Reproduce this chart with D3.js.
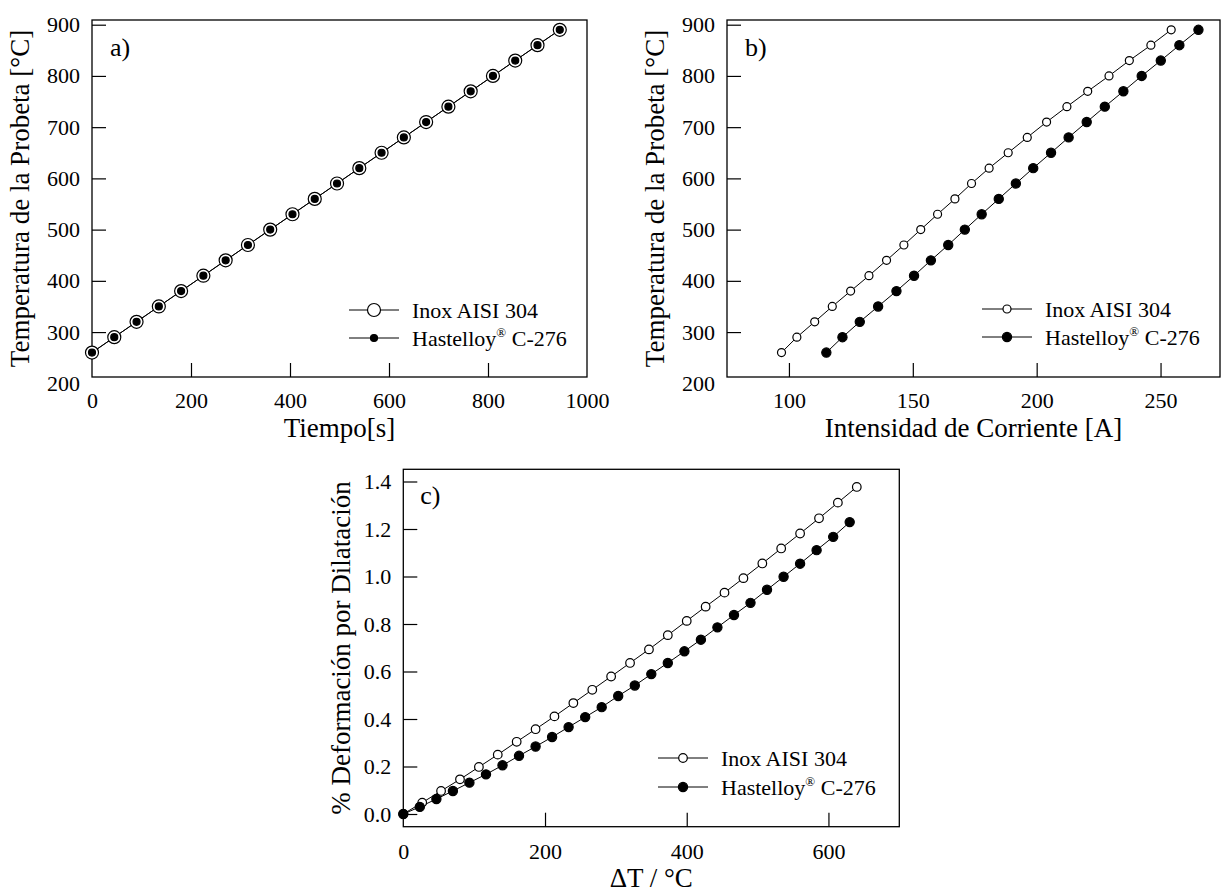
<!DOCTYPE html>
<meta charset="utf-8">
<style>
body { margin: 0; background: #fff; }
svg text { font-family: "Liberation Serif", "Times New Roman", serif; fill: #000; }
.tick text { font-size: 22px; }
.tick line { stroke: #000; stroke-width: 1.2; }
.title { font-size: 27px; }
.tag { font-size: 26px; }
.legend { font-size: 22px; }
.frame { fill: none; stroke: #000; stroke-width: 1.3; }
.serie { fill: none; stroke: #000; stroke-width: 1; }
</style>
<body>
<script src="https://d3js.org/d3.v7.min.js"></script>
<script>

// temperatura de la probeta, comun a a) y b)
var tempProbeta = [260, 290, 320, 350, 380, 410, 440, 470, 500, 530, 560,
                   590, 620, 650, 680, 710, 740, 770, 800, 830, 860, 890];

// a) tiempo [s] (las dos probetas coinciden)
var tiempo = [0, 45, 90, 135, 180, 225, 270, 315, 360, 405, 450,
              495, 540, 585, 630, 675, 720, 765, 810, 855, 900, 945];

// b) intensidad de corriente [A]
var corrienteInox = [97, 103.2, 110.4, 117.5, 124.9, 132.3, 139.4, 146.4, 153.2, 160, 167,
                     173.7, 180.8, 188.5, 196.2, 204, 212.2, 220.6, 229.2, 237.4, 246.1, 254.3];
var corrienteHast = [115.1, 121.6, 128.6, 136, 143.4, 150.5, 157.3, 164.3, 171, 177.8, 184.7,
                     191.6, 198.6, 205.8, 212.9, 220.2, 227.5, 235, 242.4, 250.1, 257.6, 265.3];

// c) deformacion vs dT
var dTInox = [0, 26.7, 53.3, 80, 106.7, 133.3, 160, 186.7, 213.3, 240, 266.7, 293.3, 320,
              346.7, 373.3, 400, 426.7, 453.3, 480, 506.7, 533.3, 560, 586.7, 613.3, 640];
var defInox = [0, 0.048, 0.097, 0.146, 0.198, 0.25, 0.304, 0.357, 0.411, 0.467, 0.523, 0.579, 0.636,
               0.693, 0.753, 0.813, 0.873, 0.932, 0.993, 1.055, 1.118, 1.181, 1.245, 1.311, 1.377];
var dTHast = [0, 23.3, 46.7, 70, 93.3, 116.7, 140, 163.3, 186.7, 210, 233.3, 256.7, 280, 303.3,
              326.7, 350, 373.3, 396.7, 420, 443.3, 466.7, 490, 513.3, 536.7, 560, 583.3, 606.7, 630];
var defHast = [0, 0.03, 0.063, 0.097, 0.132, 0.167, 0.205, 0.245, 0.284, 0.324, 0.366, 0.408, 0.45, 0.497,
               0.541, 0.589, 0.636, 0.685, 0.734, 0.786, 0.838, 0.889, 0.944, 0.999, 1.054, 1.111, 1.167, 1.229];

// ticks
var ticksTemp = [200, 300, 400, 500, 600, 700, 800, 900];
var ticksTiempo = [0, 200, 400, 600, 800, 1000];
var ticksCorriente = [100, 150, 200, 250];
var ticksDT = [0, 200, 400, 600];
var ticksDef = [0, 0.2, 0.4, 0.6, 0.8, 1.0, 1.2, 1.4];

var svg = d3.select("body").append("svg")
    .attr("width", 1222)
    .attr("height", 892);

svg.append("rect").attr("width", 1222).attr("height", 892).attr("fill", "#fff");

function zip(xs, ys) { return xs.map(function(v, i) { return [v, ys[i]]; }); }

function panel(p) {
  var x = d3.scaleLinear().domain(p.xDomain).range(p.xRange);
  var y = d3.scaleLinear().domain(p.yDomain).range(p.yRange);
  var f = p.frame;

  var gx = svg.append("g")
      .attr("transform", "translate(0," + f.y1 + ")")
      .call(d3.axisBottom(x).tickValues(p.xTicks).tickFormat(p.xFormat)
        .tickSizeInner(-14).tickSizeOuter(0).tickPadding(p.xPad));
  gx.select(".domain").remove();
  gx.selectAll(".tick line").attr("opacity", function(d) {
    return (x(d) <= f.x0 + 1 || x(d) >= f.x1 - 1) ? 0 : 1; });

  var gy = svg.append("g")
      .attr("transform", "translate(" + f.x0 + ",0)")
      .call(d3.axisLeft(y).tickValues(p.yTicks).tickFormat(p.yFormat)
        .tickSizeInner(-14).tickSizeOuter(0).tickPadding(12));
  gy.select(".domain").remove();
  gy.selectAll(".tick line").attr("opacity", function(d) {
    return (y(d) > f.y1 || y(d) < f.y0) ? 0 : 1; });

  svg.append("rect").attr("class", "frame")
      .attr("x", f.x0).attr("y", f.y0)
      .attr("width", f.x1 - f.x0).attr("height", f.y1 - f.y0);

  svg.append("text").attr("class", "title")
      .attr("x", (f.x0 + f.x1) / 2).attr("y", p.xTitleY)
      .style("text-anchor", "middle").text(p.xTitle);
  svg.append("text").attr("class", "title")
      .attr("transform", "translate(" + p.yTitleX + "," + (f.y0 + f.y1) / 2 + ") rotate(-90)")
      .style("text-anchor", "middle").text(p.yTitle);

  svg.append("text").attr("class", "tag")
      .attr("x", f.x0 + p.tag[1]).attr("y", f.y0 + p.tag[2]).text(p.tag[0]);

  var line = d3.line().x(function(d) { return x(d[0]); }).y(function(d) { return y(d[1]); });

  p.series.forEach(function(s) {
    var pts = zip(s.x, s.y);
    svg.append("path").datum(pts).attr("class", "serie").attr("d", line);
  });
  p.series.forEach(function(s) {
    var pts = zip(s.x, s.y);
    svg.selectAll(null).data(pts).enter().append("circle")
        .attr("cx", function(d) { return x(d[0]); })
        .attr("cy", function(d) { return y(d[1]); })
        .attr("r", s.r)
        .attr("fill", s.fill ? "#000" : "#fff")
        .attr("stroke", "#000").attr("stroke-width", 1.2);
  });

  // leyenda
  var L = p.legend;
  p.series.forEach(function(s, i) {
    var cy = L.y[i];
    svg.append("line").attr("x1", L.x).attr("x2", L.x + 50)
        .attr("y1", cy).attr("y2", cy).attr("stroke", "#000").attr("stroke-width", 1);
    svg.append("circle").attr("cx", L.x + 25).attr("cy", cy).attr("r", s.r)
        .attr("fill", s.fill ? "#000" : "#fff").attr("stroke", "#000").attr("stroke-width", 1.2);
    var t = svg.append("text").attr("class", "legend")
        .attr("x", L.x + 63).attr("y", cy + 7.5);
    if (s.sup) {
      t.append("tspan").text("Hastelloy");
      t.append("tspan").attr("dy", -9).style("font-size", "13px").text("®");
      t.append("tspan").attr("dy", 9).text(" C-276");
    } else {
      t.text(s.name);
    }
  });
}

var fmtInt = d3.format("d");
var fmtDef = d3.format(".1f");

panel({
  frame: {x0: 92, x1: 587, y0: 20, y1: 377},
  xDomain: [0, 1000], xRange: [92, 587],
  yDomain: [200, 900], yRange: [383.3, 24.7],
  xTicks: ticksTiempo, yTicks: ticksTemp, xFormat: fmtInt, yFormat: fmtInt, xPad: 15,
  xTitle: "Tiempo[s]", xTitleY: 437,
  yTitle: "Temperatura de la Probeta [°C]", yTitleX: 29,
  tag: ["a)", 18, 36],
  series: [
    {name: "Inox AISI 304", x: tiempo, y: tempProbeta, r: 6.5, fill: false},
    {name: "Hastelloy", sup: true, x: tiempo, y: tempProbeta, r: 3.5, fill: true}
  ],
  legend: {x: 349, y: [310, 338]}
});

panel({
  frame: {x0: 727, x1: 1220, y0: 20, y1: 377},
  xDomain: [75, 274], xRange: [727, 1220],
  yDomain: [200, 900], yRange: [383.3, 24.7],
  xTicks: ticksCorriente, yTicks: ticksTemp, xFormat: fmtInt, yFormat: fmtInt, xPad: 15,
  xTitle: "Intensidad de Corriente [A]", xTitleY: 437,
  yTitle: "Temperatura de la Probeta [°C]", yTitleX: 664,
  tag: ["b)", 18, 36],
  series: [
    {name: "Inox AISI 304", x: corrienteInox, y: tempProbeta, r: 4, fill: false},
    {name: "Hastelloy", sup: true, x: corrienteHast, y: tempProbeta, r: 4.6, fill: true}
  ],
  legend: {x: 982, y: [309, 337]}
});

panel({
  frame: {x0: 403.3, x1: 899.3, y0: 469.3, y1: 826.7},
  xDomain: [0, 700], xRange: [403.3, 899.3],
  yDomain: [0, 1.4], yRange: [814, 481.5],
  xTicks: ticksDT, yTicks: ticksDef, xFormat: fmtInt, yFormat: fmtDef, xPad: 16.5,
  xTitle: "ΔT / °C", xTitleY: 887,
  yTitle: "% Deformación por Dilatación", yTitleX: 350,
  tag: ["c)", 17, 35],
  series: [
    {name: "Inox AISI 304", x: dTInox, y: defInox, r: 4.3, fill: false},
    {name: "Hastelloy", sup: true, x: dTHast, y: defHast, r: 4.6, fill: true}
  ],
  legend: {x: 658, y: [758, 787]}
});

</script>
</body>
